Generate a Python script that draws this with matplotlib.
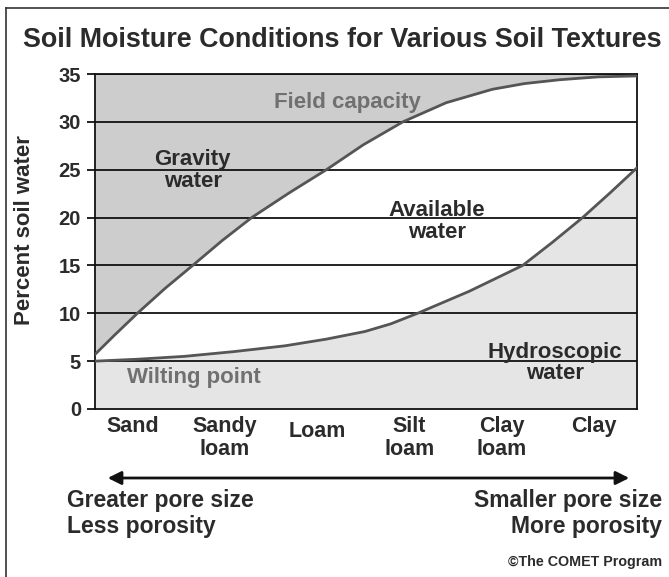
import numpy as np
import matplotlib
matplotlib.use('Agg')
import matplotlib.pyplot as plt
from matplotlib.lines import Line2D
from matplotlib.patches import FancyArrowPatch

plt.rcParams['font.family'] = ['Liberation Sans', 'DejaVu Sans']
plt.rcParams['font.weight'] = 'bold'

# soil textures along the x axis
textures = ['Sand', 'Sandy\nloam', 'Loam', 'Silt\nloam', 'Clay\nloam', 'Clay']

# field capacity curve (x in texture units, percent soil water)
fc_x = [-0.41, -0.20, 0.05, 0.35, 0.65, 0.97, 1.29, 1.70, 2.10, 2.50,
        2.93, 3.40, 3.90, 4.25, 4.63, 5.05, 5.47]
fc_y = [5.7, 7.7, 10.0, 12.6, 15.0, 17.6, 20.0, 22.6, 25.0, 27.6,
        30.0, 32.0, 33.4, 34.0, 34.4, 34.7, 34.8]

# wilting point curve
wp_x = [-0.41, 0.05, 0.56, 1.10, 1.65, 2.10, 2.52, 2.80, 3.09, 3.65,
        4.23, 4.55, 4.88, 5.18, 5.47]
wp_y = [5.0, 5.2, 5.5, 6.0, 6.6, 7.3, 8.1, 8.9, 10.0, 12.3,
        15.0, 17.4, 20.0, 22.6, 25.2]

y_ticks = [0, 5, 10, 15, 20, 25, 30, 35]

TXT = '#2b2b2b'
GREY_TXT = '#707070'
CURVE = '#555555'
FS = 16

fig = plt.figure(figsize=(6.69, 5.77), dpi=100)
ax = fig.add_axes([95 / 669, 1 - 409 / 577, 542 / 669, 335 / 577])

ax.fill_between(fc_x, fc_y, 35, color='#cdcdcd', lw=0, zorder=1)
ax.fill_between(wp_x, 0, wp_y, color='#e5e5e5', lw=0, zorder=1)

for v in y_ticks[1:]:
    ax.axhline(v, color='#111111', lw=1.3, zorder=2)

ax.plot(fc_x, fc_y, color=CURVE, lw=2.0, zorder=3, solid_capstyle='round')
ax.plot(wp_x, wp_y, color=CURVE, lw=2.0, zorder=3, solid_capstyle='round')

ax.set_xlim(-0.41, 5.47)
ax.set_ylim(0, 35)
ax.set_yticks(y_ticks)
ax.set_yticklabels([str(v) for v in y_ticks], fontsize=14.5, color=TXT,
                   fontweight='bold')
ax.set_xticks([])
ax.tick_params(axis='y', length=6, width=1.3, pad=4, color='#111111')
for sp in ax.spines.values():
    sp.set_color('#111111')
    sp.set_linewidth(1.3)

ax.set_ylabel('Percent soil water', fontsize=16, color=TXT, fontweight='bold')
ax.yaxis.set_label_coords(-0.111, 0.535)

# texture names under the axis
for i, name in enumerate(textures):
    if name == 'Loam':
        ax.text(i, -2.3, name, ha='center', va='center', fontsize=15.5,
                color=TXT, clip_on=False)
    else:
        ax.text(i, -0.75, name, ha='center', va='top', fontsize=15.5,
                color=TXT, linespacing=1.12, clip_on=False)

# region labels
ax.text(2.33, 32.0, 'Field capacity', ha='center', va='center',
        fontsize=FS, color=GREY_TXT)
ax.text(0.65, 24.9, 'Gravity\nwater', ha='center', va='center',
        fontsize=FS, color=TXT, linespacing=1.05)
ax.text(3.30, 19.6, 'Available\nwater', ha='center', va='center',
        fontsize=FS, color=TXT, linespacing=1.05)
ax.text(4.58, 4.8, 'Hydroscopic\nwater', ha='center', va='center',
        fontsize=FS, color=TXT, linespacing=1.05)
ax.text(0.66, 3.3, 'Wilting point', ha='center', va='center',
        fontsize=FS, color=GREY_TXT)

fig.text(342 / 669, 1 - 40 / 577,
         'Soil Moisture Conditions for Various Soil Textures',
         ha='center', va='center', fontsize=19.4, color=TXT)

# pore size arrow and captions
fig.add_artist(FancyArrowPatch(
    (105 / 669, 1 - 478 / 577), (632 / 669, 1 - 478 / 577),
    transform=fig.transFigure, arrowstyle='<|-|>', mutation_scale=20,
    color='#111111', lw=2))
fig.text(67 / 669, 1 - 500 / 577, 'Greater pore size', ha='left',
         va='center', fontsize=16.5, color=TXT)
fig.text(67 / 669, 1 - 527 / 577, 'Less porosity', ha='left',
         va='center', fontsize=16.5, color=TXT)
fig.text(662 / 669, 1 - 500 / 577, 'Smaller pore size', ha='right',
         va='center', fontsize=16.5, color=TXT)
fig.text(662 / 669, 1 - 527 / 577, 'More porosity', ha='right',
         va='center', fontsize=16.5, color=TXT)
fig.text(662 / 669, 1 - 562 / 577, '\u00a9The COMET Program', ha='right',
         va='center', fontsize=10.3, color=TXT)

# outer frame (left and top edges)
fig.add_artist(Line2D([5.5 / 669, 5.5 / 669], [0, 1 - 7.5 / 577],
                      transform=fig.transFigure, color='#333333', lw=1.2))
fig.add_artist(Line2D([5.5 / 669, 1], [1 - 7.5 / 577, 1 - 7.5 / 577],
                      transform=fig.transFigure, color='#333333', lw=1.2))

fig.savefig('out.png', dpi=100)
